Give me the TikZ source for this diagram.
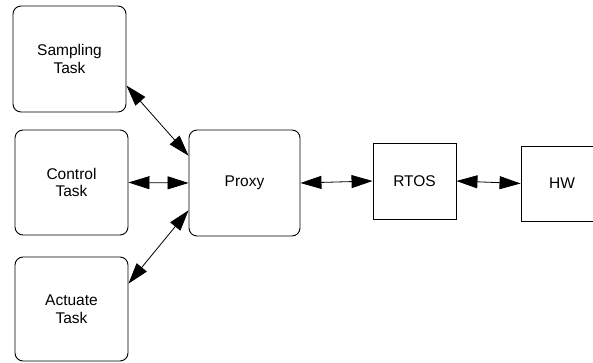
\documentclass[tikz,border=0pt]{standalone}
\usepackage{fontspec}
\setmainfont{Liberation Sans}
\usetikzlibrary{arrows.meta}
\begin{document}
\begin{tikzpicture}[x=1pt,y=-1pt,
  rbox/.style={draw, line width=0.9pt, rounded corners=8pt, align=center, inner sep=0pt,
    font=\fontsize{15.5}{17.5}\selectfont},
  sbox/.style={draw, line width=0.9pt, align=center, inner sep=0pt,
    font=\fontsize{15.5}{17.5}\selectfont},
  link/.style={line width=0.8pt, {Triangle[length=21pt,width=13pt]}-{Triangle[length=21pt,width=13pt]}}]
\useasboundingbox (0,0) rectangle (593,363);
\node[rbox, minimum width=113pt, minimum height=106pt] (samp) at (69.5,59) {Sampling\\Task};
\node[rbox, minimum width=113pt, minimum height=105pt] (ctrl) at (71.5,182.5) {Control\\Task};
\node[rbox, minimum width=113pt, minimum height=104pt] (act) at (71.5,309) {Actuate\\Task};
\node[rbox, minimum width=111pt, minimum height=106pt] (proxy) at (244.5,183) {Proxy};
\node[sbox, minimum width=83pt, minimum height=76pt] (rtos) at (414.5,181) {RTOS};
\node[sbox, minimum width=82pt, minimum height=75pt] (hw) at (562,183.5) {HW};
\draw[link] (samp.-25.5) -- (proxy.154);
\draw[link] (ctrl.east) -- (proxy.west);
\draw[link] (act.24) -- (proxy.-154);
\draw[link] (proxy.east) -- (rtos.west);
\draw[link] (rtos.east) -- (hw.west);
\end{tikzpicture}
\end{document}
